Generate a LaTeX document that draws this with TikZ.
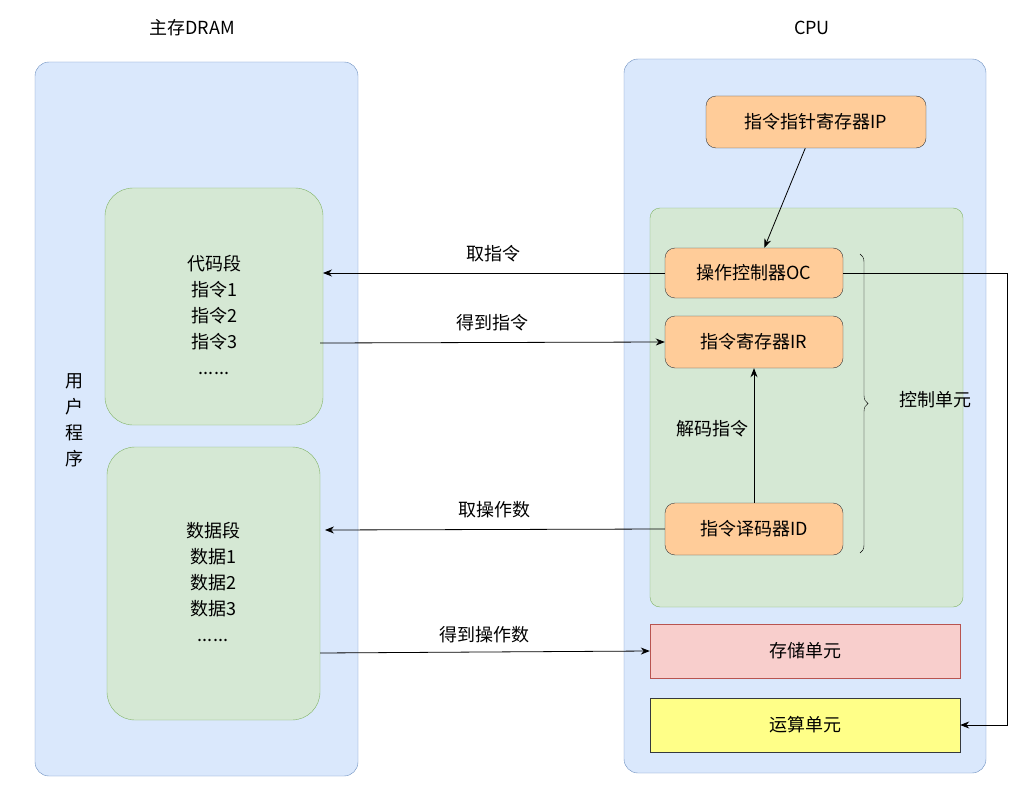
\documentclass[tikz,border=0pt]{standalone}
\usepackage{fontspec}
\setmainfont{Noto Sans CJK SC}
\usetikzlibrary{arrows.meta,decorations.pathreplacing}
\definecolor{bfill}{HTML}{DAE8FC}\definecolor{bline}{HTML}{6C8EBF}
\definecolor{gfill}{HTML}{D5E8D4}\definecolor{gline}{HTML}{82B366}
\definecolor{ofill}{HTML}{FFCC99}\definecolor{dline}{HTML}{36393D}
\definecolor{rfill}{HTML}{F8CECC}\definecolor{rline}{HTML}{B85450}
\definecolor{yfill}{HTML}{FFFF88}
\begin{document}
\begin{tikzpicture}[x=1pt,y=-1pt,font=\fontsize{18}{22}\selectfont,
 blue/.style={fill=bfill,draw=bline,rounded corners=14pt},
 green/.style={fill=gfill,draw=gline,rounded corners=28pt},
 gsmall/.style={fill=gfill,draw=gline,rounded corners=10pt},
 orange/.style={fill=ofill,draw=dline,rounded corners=10pt},
 arr/.style={-{Stealth[length=9pt,width=7pt]},line width=0.8pt},
 lbl/.style={inner sep=1pt}]
\useasboundingbox (0,0) rectangle (1034,797);
\node (t1) at (192,28) {主存DRAM};
\node (t2) at (812,28) {CPU};
\draw[blue] (35,62) rectangle (358,776);
\draw[blue] (624,59) rectangle (986,773);
\draw[green] (105,188) rectangle (323,425);
\node[align=center,font=\fontsize{18}{26}\selectfont] (code) at (214,315) {代码段\\指令1\\指令2\\指令3\\......};
\draw[green] (107,447) rectangle (320,720);
\node[align=center,font=\fontsize{18}{26}\selectfont] (data) at (213,582) {数据段\\数据1\\数据2\\数据3\\......};
\node[align=center,font=\fontsize{18}{26}\selectfont] (user) at (74,420) {用\\户\\程\\序};
\coordinate (cR1) at (323,273); \coordinate (cR2) at (320,343);
\coordinate (dR1) at (325,530); \coordinate (dR2) at (320,653);
\draw[gsmall] (650,208) rectangle (963,607);
\node[orange,minimum width=220pt,minimum height=52pt] (ip) at (816,122) {指令指针寄存器IP};
\node[orange,minimum width=178pt,minimum height=50pt] (oc) at (754,273) {操作控制器OC};
\node[orange,minimum width=178pt,minimum height=52pt] (ir) at (754,342) {指令寄存器IR};
\node[orange,minimum width=178pt,minimum height=52pt] (id) at (754,529) {指令译码器ID};
\node[fill=rfill,draw=rline,minimum width=310pt,minimum height=54pt] (st) at (805,651) {存储单元};
\node[fill=yfill,draw=dline,minimum width=310pt,minimum height=54pt] (al) at (805,725) {运算单元};
\coordinate (b1) at (860,254); \coordinate (b2) at (860,553);
\draw[decorate,decoration={brace,amplitude=8pt}] (b1) -- (b2);
\node (cu) at (935,400) {控制单元};
\draw[arr] (ip) -- (oc);
\draw[arr] (oc.west) -- (cR1) node[lbl,midway,above=10pt] {取指令};
\draw[arr] (cR2) -- (ir.west) node[lbl,midway,above=10pt] {得到指令};
\draw[arr] (id.north) -- (ir.south) node[lbl,pos=0.55,left=4pt] {解码指令};
\draw[arr] (id.west) -- (dR1) node[lbl,midway,above=10pt] {取操作数};
\draw[arr] (dR2) -- (st.west) node[lbl,midway,above=8pt] {得到操作数};
\coordinate (e1) at (1007,273); \coordinate (e2) at (1007,725);
\draw[arr] (oc.east) -- (e1) -- (e2) -- (al.east);
\end{tikzpicture}
\end{document}
